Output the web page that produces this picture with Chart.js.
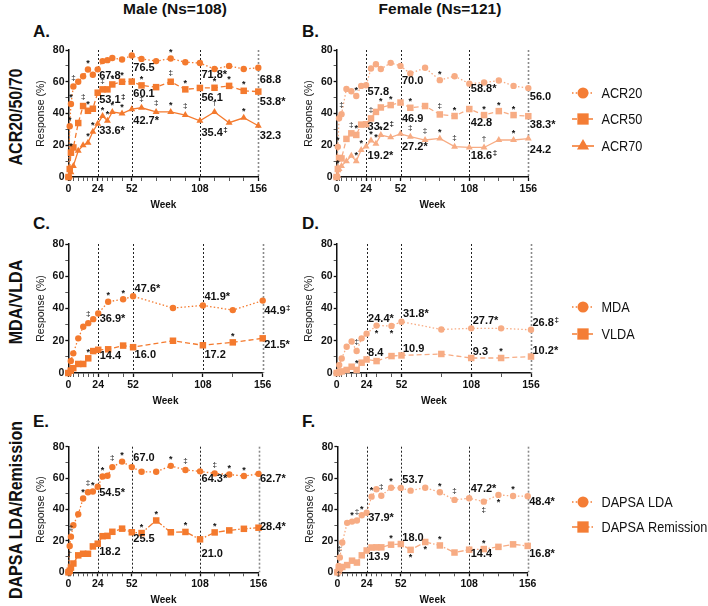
<!DOCTYPE html>
<html lang="en">
<head>
  <meta charset="UTF-8" />
  <title>Response by sex - ACR20/50/70, MDA/VLDA, DAPSA</title>
  <script src="https://cdn.jsdelivr.net/npm/chart.js"></script>
  <style>
    body { margin: 0; background: #fff; font-family: "Liberation Sans", Arial, sans-serif; color: #111; }
    .page { position: relative; width: 708px; height: 606px; overflow: hidden; }
    .page canvas { position: absolute; }
    .lbl { position: absolute; font-weight: bold; white-space: nowrap; transform: translate(-50%, -50%); }
    .col { font-size: 15.5px; top: 9px; }
    .letter { font-size: 17px; transform: translate(0, -50%); }
    .row { font-size: 16px; left: 16px; transform: translate(-50%, -50%) rotate(-90deg) scaleY(1.1); }
  </style>
</head>
<body>
<div class="page">
  <div class="lbl col" style="left:175px">Male (Ns=108)</div>
  <div class="lbl col" style="left:440px">Female (Ns=121)</div>

  <div class="lbl letter" style="left:33px;top:32px">A.</div>
  <div class="lbl letter" style="left:302px;top:32px">B.</div>
  <div class="lbl letter" style="left:33px;top:224px">C.</div>
  <div class="lbl letter" style="left:302px;top:224px">D.</div>
  <div class="lbl letter" style="left:33px;top:422px">E.</div>
  <div class="lbl letter" style="left:302px;top:422px">F.</div>

  <div class="lbl row" style="top:117px">ACR20/50/70</div>
  <div class="lbl row" style="top:302px">MDA/VLDA</div>
  <div class="lbl row" style="top:510px">DAPSA LDA/Remission</div>

  <canvas id="panelA"></canvas>
  <canvas id="panelB"></canvas>
  <canvas id="panelC"></canvas>
  <canvas id="panelD"></canvas>
  <canvas id="panelE"></canvas>
  <canvas id="panelF"></canvas>
</div>

<script>
  // weeks
  const weeksFull = [0, 1, 2, 4, 8, 12, 16, 20, 24, 28, 32, 36, 44, 52, 60, 72, 84, 96, 108, 120, 132, 144, 156];
  const weeksMda = [0, 2, 4, 8, 12, 16, 20, 24, 32, 44, 52, 84, 108, 132, 156];
  const labelWeeks = [24, 52, 108, 156];
  const xTickLabels = [0, 24, 52, 108, 156];

  // ACR male / female
  const acr20Male = [0, 32, 46, 57, 60, 63.5, 67.7, 64.4, 67.8, 73, 73.6, 75, 74, 76.5, 74.4, 73, 74.6, 72.3, 71.8, 68, 70, 68, 68.8];
  const acr50Male = [0, 5, 15.3, 18.6, 34, 44.7, 41.7, 43, 53.1, 55.2, 55.2, 58.3, 60, 60.1, 57.7, 56.6, 60, 55.2, 56.1, 56.2, 57.4, 54.3, 53.8];
  const acr70Male = [0, 0.5, 3, 7, 16.5, 20, 21.5, 28.5, 33.6, 38.4, 35.4, 41, 40, 42.7, 43.6, 41, 41, 39, 35.4, 41, 34.2, 37.3, 32.3];
  const acr20Female = [0, 19, 37, 39.5, 55.5, 54, 51, 57.4, 57.8, 68.3, 71, 68, 71.9, 70.0, 65.2, 68.8, 61, 63.5, 58.8, 59.5, 60.8, 57.4, 56.0];
  const acr50Female = [0, 5, 12, 11.7, 24, 27.5, 26.5, 33, 33.2, 36.9, 41, 43.8, 45.3, 46.9, 43.6, 44.7, 39.4, 38.4, 42.8, 39, 41.5, 39, 38.3];
  const acr70Female = [0, 1, 5, 7, 10, 13.4, 10, 17, 19.2, 23, 21, 26.4, 25, 27.2, 25.4, 23.3, 24.3, 19.1, 18.6, 18.6, 23.3, 23.3, 24.2];

  // MDA / VLDA
  const mdaMale = [0, 7.5, 12.2, 21.5, 28.7, 30.9, 33.4, 36.9, 44.2, 45.7, 47.6, 40.3, 41.9, 39, 44.9];
  const vldaMale = [0, 1.5, 3, 5.6, 5.6, 9.1, 13.6, 14.4, 14.7, 17, 16.0, 20, 17.2, 19, 21.5];
  const mdaFemale = [0, 5, 9, 16.3, 19.5, 13.6, 21.5, 24.4, 29.4, 29.2, 31.8, 27, 27.7, 27.7, 26.8];
  const vldaFemale = [0, 0.5, 1, 1.9, 3.9, 1.9, 6.4, 8.4, 7.4, 10.5, 10.9, 11.8, 9.3, 9.3, 10.2];

  // DAPSA LDA / remission
  const ldaMale = [0, 16.8, 22.7, 30, 37, 47, 51, 51.5, 54.5, 61, 61.5, 67, 70.5, 67.0, 64, 64, 67.8, 65.2, 64.3, 63, 62.3, 61.3, 62.7];
  const remMale = [0, 1, 3, 5.6, 10.8, 11.8, 11.8, 16.5, 18.2, 23, 23.2, 25.8, 27.8, 25.5, 25, 33, 25.5, 25.7, 21.0, 25.4, 26.7, 27.7, 28.4];
  const ldaFemale = [0, 4, 9.5, 19, 31.5, 32.3, 33, 36.3, 37.9, 48.2, 52.9, 48.8, 53.9, 53.7, 52, 53.9, 51, 46.1, 47.2, 45, 49.3, 48.6, 48.4];
  const remFemale = [0, 1, 2.5, 3.4, 4.6, 7.4, 6.2, 10.8, 13.9, 15.8, 15.9, 15.9, 17.6, 18.0, 14.3, 19.3, 17.1, 12.6, 14.4, 14.8, 16.2, 17.8, 16.8];

  // printed values at weeks 24, 52, 108, 156
  const acr20MaleLbl = ['67.8', '76.5', '71.8*', '68.8'];
  const acr50MaleLbl = ['53.1‡', '60.1', '56.1', '53.8*'];
  const acr70MaleLbl = ['33.6*', '42.7*', '35.4‡', '32.3'];
  const acr20FemaleLbl = ['57.8', '70.0', '58.8*', '56.0'];
  const acr50FemaleLbl = ['33.2‡', '46.9', '42.8', '38.3*'];
  const acr70FemaleLbl = ['19.2*', '27.2*', '18.6‡', '24.2'];
  const mdaMaleLbl = ['36.9*', '47.6*', '41.9*', '44.9‡'];
  const vldaMaleLbl = ['14.4', '16.0', '17.2', '21.5*'];
  const mdaFemaleLbl = ['24.4*', '31.8*', '27.7*', '26.8‡'];
  const vldaFemaleLbl = ['8.4', '10.9', '9.3', '10.2*'];
  const ldaMaleLbl = ['54.5*', '67.0', '64.3*', '62.7*'];
  const remMaleLbl = ['18.2', '25.5', '21.0', '28.4*'];
  const ldaFemaleLbl = ['37.9*', '53.7', '47.2*', '48.4*'];
  const remFemaleLbl = ['13.9', '18.0', '14.4', '16.8*'];

  // significance marks per point
  const acr20MaleSig = ['', '*', '*', '‡', '', '', '*', '', '', '', '', '', '', '', '', '', '*', '', '', '', '', '', ''];
  const acr50MaleSig = ['', '', '*', '', '', '‡', '*', '', '', '‡', '', '*', '*', '', '*', '', '‡', '*', '', '*', '*', '*', ''];
  const acr70MaleSig = ['', '', '', '', '', '', '*', '*', '', '*', '*', '*', '*', '', '‡', '‡', '*', '‡', '', '†', '', '*', ''];
  const acr20FemaleSig = ['', '*', '', '‡', '', '', '*', '', '', '', '', '', '', '', '', '', '*', '', '', '', '', '', ''];
  const acr50FemaleSig = ['', '*', '', '', '', '‡', '*', '', '', '‡', '', '*', '*', '', '*', '', '‡', '*', '', '*', '*', '*', ''];
  const acr70FemaleSig = ['', '', '', '', '', '', '*', '*', '', '*', '*', '*', '', '', '‡', '‡', '*', '‡', '', '†', '', '*', ''];
  const mdaMaleSig = ['', '', '', '', '', '‡', '', '', '*', '*', '', '', '', '', ''];
  const vldaMaleSig = ['', '', '', '', '', '*', '', '', '', '', '', '', '', '*', ''];
  const mdaFemaleSig = ['', '', '', '', '', '‡', '', '', '*', '*', '', '', '', '', ''];
  const vldaFemaleSig = ['', '', '', '', '', '*', '', '', '', '', '', '', '', '*', ''];
  const ldaMaleSig = ['', '†', '‡', '', '', '*', '‡', '*', '', '*', '', '‡', '*', '', '', '', '*', '‡', '', '‡', '*', '*', ''];
  const remMaleSig = ['', '', '', '', '', '', '', '', '', '', '', '', '', '', '*', '*', '', '*', '', '*', '', '', ''];
  const ldaFemaleSig = ['', '†', '‡', '', '', '*', '‡', '*', '', '*', '', '‡', '*', '', '', '', '*', '‡', '', '‡', '*', '*', ''];
  const remFemaleSig = ['', '', '', '', '', '', '', '', '', '', '', '', '*', '', '*', '*', '*', '', '', '*', '', '', ''];

  const MALE = '#F47A2E';
  const FEMALE = '#F7AC84';
  const LEGEND = '#F47D35';
  const FONT = '"Liberation Sans", Arial, sans-serif';
  const Y_W = 38;
  const X_H = 34;
  const LEGEND_X = 583;

  const dashes = { dotted: [1.5, 2.2], dashed: [5, 3], solid: [], dashDot: [6, 2, 1.5, 2] };
  const marker = { circle: 3.2, rect: 4.6, triangle: 4 };

  Chart.defaults.font.family = FONT;
  Chart.defaults.color = '#111';

  function series(weeks, values, sig, labels, color, shape, dash, dy, below) {
    return {
      data: weeks.map((w, i) => ({ x: w, y: values[i] })),
      borderColor: color,
      backgroundColor: color,
      pointBackgroundColor: color,
      pointBorderColor: color,
      pointBorderWidth: 0,
      pointStyle: shape,
      pointRadius: marker[shape],
      borderWidth: 1.3,
      borderDash: dashes[dash],
      tension: 0,
      clip: false,
      sig: sig,
      valueLabels: labels,
      labelDy: dy,
      sigBelow: below || []
    };
  }

  function drawValue(ctx, text, x, y) {
    const m = text.match(/^([\d.]+)(.?)$/);
    ctx.font = 'bold 11px ' + FONT;
    ctx.textAlign = 'left';
    ctx.textBaseline = 'middle';
    ctx.fillText(m[1], x, y);
    if (!m[2]) return;
    const w = ctx.measureText(m[1]).width;
    if (m[2] === '*') {
      ctx.fillText('*', x + w, y);
    } else {
      ctx.font = 'bold 8px ' + FONT;
      ctx.fillText(m[2], x + w + 0.5, y - 3);
    }
  }

  function extras(box, legendItems) {
    return {
      id: 'panelExtras',
      beforeDatasetsDraw(chart) {
        const { ctx, chartArea: a, scales: { x } } = chart;
        ctx.save();
        ctx.setLineDash([2, 2]);
        labelWeeks.forEach(w => {
          const px = Math.round(x.getPixelForValue(w)) + 0.5;
          ctx.strokeStyle = w === 156 ? '#8a8a8a' : '#222';
          ctx.lineWidth = w === 156 ? 1.6 : 1;
          ctx.beginPath();
          ctx.moveTo(px, a.top);
          ctx.lineTo(px, a.bottom);
          ctx.stroke();
        });
        ctx.restore();
      },
      afterDatasetsDraw(chart) {
        const { ctx, scales: { x, y } } = chart;
        ctx.save();
        ctx.fillStyle = '#111';
        chart.data.datasets.forEach(ds => {
          ds.sig.forEach((s, i) => {
            if (!s) return;
            const px = x.getPixelForValue(ds.data[i].x);
            const py = y.getPixelForValue(ds.data[i].y);
            const below = ds.sigBelow.includes(i);
            ctx.font = (s === '*' ? 'bold 9px ' : '8px ') + FONT;
            ctx.textAlign = 'center';
            ctx.textBaseline = 'middle';
            ctx.fillText(s, px, py + (below ? 8 : (s === '*' ? -6 : -9)));
          });
          ds.valueLabels.forEach((t, k) => {
            const pt = ds.data.find(p => p.x === labelWeeks[k]);
            const px = x.getPixelForValue(pt.x);
            const py = y.getPixelForValue(pt.y);
            drawValue(ctx, t, px + 1.5, py + ds.labelDy[k]);
          });
        });
        ctx.restore();
      },
      afterDraw(chart) {
        const { ctx } = chart;
        legendItems.forEach(it => {
          const cx = LEGEND_X - box.cl;
          const cy = it.y - box.ct;
          ctx.save();
          ctx.strokeStyle = LEGEND;
          ctx.lineWidth = 1.6;
          ctx.setLineDash(dashes[it.dash]);
          ctx.beginPath();
          ctx.moveTo(cx - 11, cy);
          ctx.lineTo(cx + 11, cy);
          ctx.stroke();
          ctx.setLineDash([]);
          ctx.fillStyle = LEGEND;
          Chart.helpers.drawPoint(ctx, { pointStyle: it.shape, radius: it.r, rotation: 0, borderWidth: 0 }, cx, cy);
          // legend text, slightly taller than wide like the original figure
          ctx.fillStyle = '#111';
          ctx.font = '12.7px ' + FONT;
          ctx.textAlign = 'left';
          ctx.textBaseline = 'middle';
          ctx.translate(cx + 18.5, cy + 0.5);
          ctx.scale(1, 1.15);
          ctx.fillText(it.text, 0, 0);
          ctx.restore();
        });
      }
    };
  }

  function makePanel(id, box, weeks, datasets, legendItems) {
    const canvas = document.getElementById(id);
    const ch = Math.round(box.b + X_H + 4 - box.ct);
    canvas.width = box.cw;
    canvas.height = ch;
    canvas.style.left = box.cl + 'px';
    canvas.style.top = box.ct + 'px';
    new Chart(canvas, {
      type: 'line',
      data: { datasets: datasets },
      options: {
        responsive: false,
        animation: false,
        events: [],
        layout: {
          padding: {
            left: box.l - box.cl - Y_W,
            top: box.t - box.ct,
            right: box.cl + box.cw - box.r,
            bottom: ch - (box.b - box.ct) - X_H
          }
        },
        plugins: { legend: { display: false }, tooltip: { enabled: false } },
        scales: {
          x: {
            type: 'linear',
            min: 0,
            max: 156,
            afterFit: s => { s.height = X_H; },
            afterBuildTicks: ax => { ax.ticks = weeks.map(v => ({ value: v })); },
            ticks: {
              autoSkip: false,
              maxRotation: 0,
              padding: 2,
              color: '#111',
              font: { size: 10.5, weight: 'bold' },
              callback: v => xTickLabels.includes(v) ? String(v) : ''
            },
            grid: {
              drawOnChartArea: false,
              tickLength: 4,
              tickColor: '#111',
              tickWidth: c => xTickLabels.includes(c.tick && c.tick.value) ? 1.3 : 0.7
            },
            border: { display: true, color: '#111', width: 1.5 },
            title: { display: true, text: 'Week', color: '#111', font: { size: 10, weight: 'bold' }, padding: 0 }
          },
          y: {
            min: 0,
            max: 80,
            afterFit: s => { s.width = Y_W; },
            ticks: {
              stepSize: 10,
              padding: 1,
              color: '#111',
              font: { size: 10.5, weight: 'bold' },
              callback: v => v % 20 === 0 ? String(v) : ''
            },
            grid: {
              drawOnChartArea: false,
              tickLength: 3,
              tickColor: '#111',
              tickWidth: c => (c.tick && c.tick.value % 20 === 0) ? 1.3 : 0.7
            },
            border: { display: true, color: '#111', width: 1.5 },
            title: { display: true, text: 'Response (%)', color: '#111', font: { size: 10.5 }, padding: { top: 4.5, bottom: 0 } }
          }
        }
      },
      plugins: [extras(box, legendItems || [])]
    });
  }

  const boxes = {
    A: { cl: 28, ct: 36, cw: 300, l: 68.5, r: 258.3, t: 50, b: 177 },
    B: { cl: 296, ct: 36, cw: 412, l: 336.6, r: 528.3, t: 50, b: 177 },
    C: { cl: 28, ct: 230, cw: 300, l: 68.3, r: 262.7, t: 244, b: 373 },
    D: { cl: 296, ct: 230, cw: 412, l: 336.7, r: 531, t: 244, b: 373 },
    E: { cl: 28, ct: 432, cw: 300, l: 68.5, r: 258.5, t: 446.7, b: 572.3 },
    F: { cl: 296, ct: 432, cw: 412, l: 337.4, r: 527.7, t: 446.7, b: 572.3 }
  };

  makePanel('panelA', boxes.A, weeksFull, [
    series(weeksFull, acr20Male, acr20MaleSig, acr20MaleLbl, MALE, 'circle', 'dotted', [7, 12, 12, 12]),
    series(weeksFull, acr50Male, acr50MaleSig, acr50MaleLbl, MALE, 'rect', 'dashed', [7, 12, 10, 10]),
    series(weeksFull, acr70Male, acr70MaleSig, acr70MaleLbl, MALE, 'triangle', 'solid', [7, 12, 12, 10])
  ]);

  makePanel('panelB', boxes.B, weeksFull, [
    series(weeksFull, acr20Female, acr20FemaleSig, acr20FemaleLbl, FEMALE, 'circle', 'dotted', [7, 15, 5, 9]),
    series(weeksFull, acr50Female, acr50FemaleSig, acr50FemaleLbl, FEMALE, 'rect', 'dashed', [3, 16, 14, 9]),
    series(weeksFull, acr70Female, acr70FemaleSig, acr70FemaleLbl, FEMALE, 'triangle', 'solid', [9, 13, 8, 11])
  ], [
    { text: 'ACR20', shape: 'circle', dash: 'dotted', r: 5.5, y: 93 },
    { text: 'ACR50', shape: 'rect', dash: 'dashed', r: 8, y: 119 },
    { text: 'ACR70', shape: 'triangle', dash: 'solid', r: 7, y: 146 }
  ]);

  makePanel('panelC', boxes.C, weeksMda, [
    series(weeksMda, mdaMale, mdaMaleSig, mdaMaleLbl, MALE, 'circle', 'dotted', [5, -7, -8, 10]),
    series(weeksMda, vldaMale, vldaMaleSig, vldaMaleLbl, MALE, 'rect', 'dashed', [6, 8, 10, 7])
  ]);

  makePanel('panelD', boxes.D, weeksMda, [
    series(weeksMda, mdaFemale, mdaFemaleSig, mdaFemaleLbl, FEMALE, 'circle', 'dotted', [-15, -8, -7, -7], [8, 9]),
    series(weeksMda, vldaFemale, vldaFemaleSig, vldaFemaleLbl, FEMALE, 'rect', 'dashed', [-6, -6, -6, -6])
  ], [
    { text: 'MDA', shape: 'circle', dash: 'dotted', r: 5.5, y: 307 },
    { text: 'VLDA', shape: 'rect', dash: 'dashed', r: 8, y: 334 }
  ]);

  makePanel('panelE', boxes.E, weeksFull, [
    series(weeksFull, ldaMale, ldaMaleSig, ldaMaleLbl, MALE, 'circle', 'dotted', [6, -9, 8, 5], [1]),
    series(weeksFull, remMale, remMaleSig, remMaleLbl, MALE, 'rect', 'dashDot', [8, 7, 15, -1])
  ]);

  makePanel('panelF', boxes.F, weeksFull, [
    series(weeksFull, ldaFemale, ldaFemaleSig, ldaFemaleLbl, FEMALE, 'circle', 'dotted', [5.5, -8, -9, 6], [1, 19, 20]),
    series(weeksFull, remFemale, remFemaleSig, remFemaleLbl, FEMALE, 'rect', 'dashDot', [6, -6, 4, 8], [14, 15])
  ], [
    { text: 'DAPSA LDA', shape: 'circle', dash: 'dotted', r: 5.5, y: 502 },
    { text: 'DAPSA Remission', shape: 'rect', dash: 'dashDot', r: 8, y: 527 }
  ]);
</script>
</body>
</html>
